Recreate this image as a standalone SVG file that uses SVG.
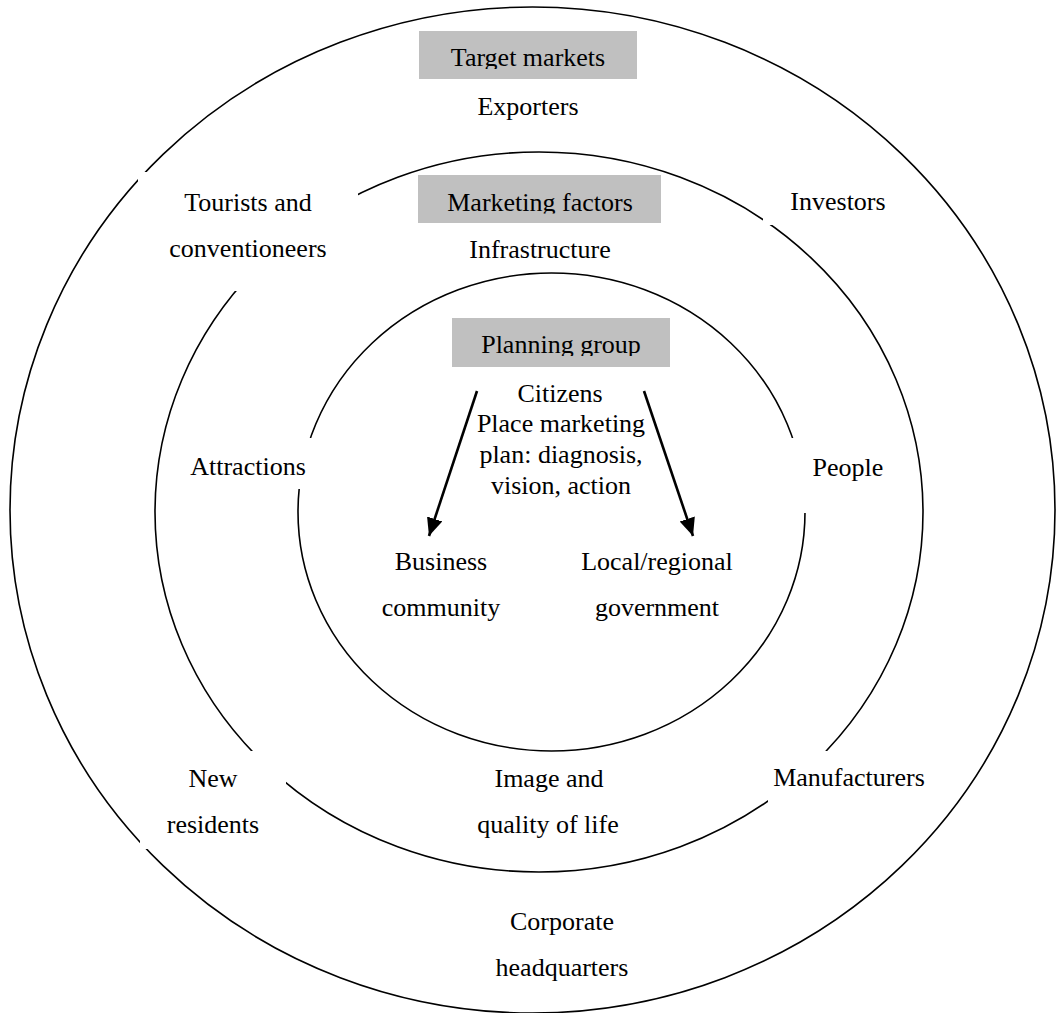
<svg xmlns="http://www.w3.org/2000/svg" width="1062" height="1013" viewBox="0 0 1062 1013">
  <style>
    .ring { fill: none; stroke: #000; stroke-width: 1.6; }
    .bg { fill: #fff; }
    .hdr { fill: #c0c0c0; }
    text { font-family: "Liberation Serif", "Times New Roman", serif; font-size: 26px; fill: #000; text-anchor: middle; }
    .arrow { stroke: #000; stroke-width: 2.6; fill: none; }
  </style>
  <defs>
    <marker id="head" markerUnits="userSpaceOnUse" markerWidth="20" markerHeight="18" refX="18" refY="8" orient="auto">
      <path d="M0,0 L18,8 L0,16 Z" fill="#000"/>
    </marker>
    <clipPath id="clipTarget"><rect x="419" y="31" width="218" height="38"/></clipPath>
    <clipPath id="clipFactors"><rect x="418" y="175" width="243" height="38.5"/></clipPath>
    <clipPath id="clipPlanning"><rect x="452" y="318" width="218" height="38"/></clipPath>
  </defs>

  <!-- concentric rings: target markets, marketing factors, planning group -->
  <g id="rings">
    <ellipse id="ring-outer" class="ring" cx="532.5" cy="510" rx="522.5" ry="503"/>
    <ellipse id="ring-middle" class="ring" cx="539" cy="512" rx="384" ry="360"/>
    <ellipse id="ring-inner" class="ring" cx="551.5" cy="512" rx="253.5" ry="239"/>
  </g>

  <!-- ring headings -->
  <g id="target-markets">
    <rect class="hdr" x="419" y="31" width="218" height="48"/>
    <text x="528" y="66" clip-path="url(#clipTarget)">Target markets</text>
  </g>
  <g id="marketing-factors">
    <rect class="hdr" x="418" y="175" width="243" height="48"/>
    <text x="540" y="211" clip-path="url(#clipFactors)">Marketing factors</text>
  </g>
  <g id="planning-group">
    <rect class="hdr" x="452" y="318" width="218" height="49"/>
    <text x="561" y="353" clip-path="url(#clipPlanning)">Planning group</text>
  </g>

  <!-- outer ring: target markets -->
  <g id="exporters"><text x="528" y="115">Exporters</text></g>
  <g id="tourists">
    <rect class="bg" x="138" y="172" width="220" height="119"/>
    <text x="248" y="211">Tourists and</text>
    <text x="248" y="257">conventioneers</text>
  </g>
  <g id="investors">
    <rect class="bg" x="763" y="180" width="140" height="45"/>
    <text x="838" y="210">Investors</text>
  </g>
  <g id="new-residents">
    <rect class="bg" x="140" y="751" width="146" height="98"/>
    <text x="213" y="787">New</text>
    <text x="213" y="833">residents</text>
  </g>
  <g id="manufacturers">
    <rect class="bg" x="768" y="751" width="167" height="55"/>
    <text x="849" y="786">Manufacturers</text>
  </g>
  <g id="corporate-hq">
    <text x="562" y="930">Corporate</text>
    <text x="562" y="976">headquarters</text>
  </g>

  <!-- middle ring: marketing factors -->
  <g id="infrastructure"><text x="540" y="258">Infrastructure</text></g>
  <g id="attractions">
    <rect class="bg" x="175" y="438" width="140" height="51"/>
    <text x="248" y="475">Attractions</text>
  </g>
  <g id="people">
    <rect class="bg" x="780" y="438" width="125" height="75"/>
    <text x="848" y="476">People</text>
  </g>
  <g id="image-quality">
    <text x="549" y="787">Image and</text>
    <text x="548" y="833">quality of life</text>
  </g>

  <!-- inner ring: planning group -->
  <g id="citizens-plan">
    <text x="560" y="402">Citizens</text>
    <text x="561" y="432">Place marketing</text>
    <text x="561" y="463">plan: diagnosis,</text>
    <text x="561" y="494">vision, action</text>
  </g>
  <g id="business-community">
    <text x="441" y="570">Business</text>
    <text x="441" y="616">community</text>
  </g>
  <g id="local-government">
    <text x="657" y="570">Local/regional</text>
    <text x="657" y="616">government</text>
  </g>

  <g id="connectors">
    <line class="arrow" x1="477" y1="391" x2="429" y2="536" marker-end="url(#head)"/>
    <line class="arrow" x1="644" y1="391" x2="693" y2="536" marker-end="url(#head)"/>
  </g>
</svg>
